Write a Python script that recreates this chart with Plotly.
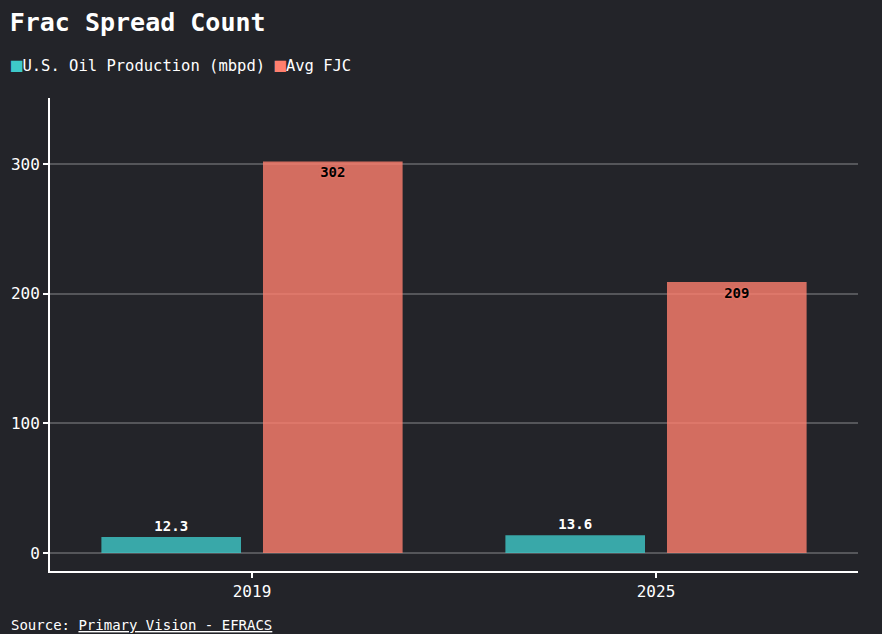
import plotly.graph_objects as go

categories = ["2019", "2025"]
oil_production = [12.3, 13.6]
avg_fjc = [302, 209]
y_ticks = [0, 100, 200, 300]
series_names = ["U.S. Oil Production (mbpd)", "Avg FJC"]
series_colors = ["#3ec9c9", "#ff7f6e"]

BG = "#232429"
FONT = "DejaVu Sans Mono"


def rgba(hex_color, a):
    h = hex_color.lstrip("#")
    r, g, b = int(h[0:2], 16), int(h[2:4], 16), int(h[4:6], 16)
    return f"rgba({r},{g},{b},{a})"


fig = go.Figure()
fig.add_trace(go.Bar(
    name=series_names[0], x=categories, y=oil_production,
    marker=dict(color=rgba(series_colors[0], 0.8), line=dict(width=0)),
    text=[f"{v}" for v in oil_production], textposition="outside",
    textfont=dict(family=FONT, size=14, color="#ffffff", weight="bold"),
    cliponaxis=False,
))
fig.add_trace(go.Bar(
    name=series_names[1], x=categories, y=avg_fjc,
    marker=dict(color=rgba(series_colors[1], 0.8), line=dict(width=0)),
    text=[f"{v}" for v in avg_fjc], textposition="inside", insidetextanchor="end",
    textfont=dict(family=FONT, size=14, color="#000000", weight="bold",
                  shadow="0px 0px 3px #ff7f6e"),
    textangle=0,
))

fig.update_layout(
    width=882, height=634,
    paper_bgcolor=BG, plot_bgcolor=BG,
    margin=dict(l=50, r=24, t=98, b=63),
    font=dict(family=FONT, color="#ffffff", size=15),
    barmode="group", bargap=0.2, bargroupgap=0.136,
    title=dict(text="<b>Frac Spread Count</b>", x=0.011, xanchor="left",
               y=0.965, yanchor="middle", font=dict(family=FONT, size=25, color="#ffffff")),
    showlegend=False,
)
legend_text = " ".join(
    f"<span style='color:{c};font-size:19px'>■</span>{n}" for n, c in zip(series_names, series_colors)
)
fig.add_annotation(
    text=legend_text, xref="paper", yref="paper", x=0, xanchor="left", xshift=-41,
    y=1.072, yanchor="middle", showarrow=False,
    font=dict(family=FONT, size=15.5, color="#ffffff"),
)
fig.update_xaxes(
    range=[-0.5, 1.5], showline=True, linecolor="#ffffff", linewidth=2,
    ticks="outside", tickcolor="#ffffff", ticklen=5, tickwidth=2,
    showgrid=False, tickfont=dict(family=FONT, size=16, color="#ffffff"),
)
fig.update_yaxes(
    range=[-13.9, 350.9], tickvals=y_ticks, showline=True, linecolor="#ffffff", linewidth=2,
    ticks="outside", tickcolor="#ffffff", ticklen=5, tickwidth=2,
    showgrid=True, gridcolor="#55565a", gridwidth=1.5, zeroline=True, zerolinecolor="#55565a",
    zerolinewidth=1.5, tickfont=dict(family=FONT, size=16, color="#ffffff"),
)
fig.add_annotation(
    text="Source: <u>Primary Vision - EFRACS</u>", xref="paper", yref="paper",
    x=0, xanchor="left", xshift=-41, y=-0.115, yanchor="middle", showarrow=False,
    font=dict(family=FONT, size=14, color="#ffffff"),
)
fig.write_html("out.html", config={"displayModeBar": False},
               post_script="document.body.style.margin='0';document.body.style.overflow='hidden';")
